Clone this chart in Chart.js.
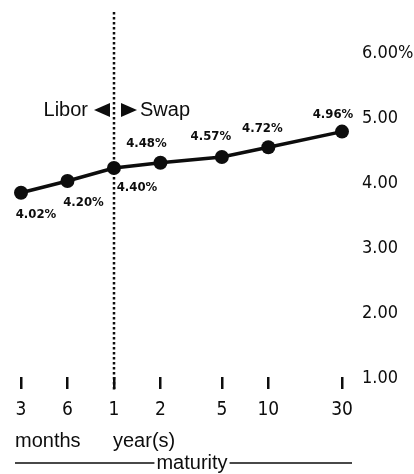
<!DOCTYPE html>
<html><head><meta charset="utf-8">
<script src="https://cdn.jsdelivr.net/npm/chart.js@4/dist/chart.umd.min.js"></script>
<style>html,body{margin:0;padding:0;background:#fff}canvas{display:block}</style>
</head><body>
<canvas id="c" width="414" height="474"></canvas>
<script>
// ---- data ----
const maturities = [0.25, 0.5, 1, 2, 5, 10, 30];            // maturity in years
const maturityLabels = ['3', '6', '1', '2', '5', '10', '30'];
const rates = [4.02, 4.20, 4.40, 4.48, 4.57, 4.72, 4.96];    // percent
const rateLabels = ['4.02%', '4.20%', '4.40%', '4.48%', '4.57%', '4.72%', '4.96%'];
const yTickValues = [1, 2, 3, 4, 5, 6];
const yTickLabels = ['1.00', '2.00', '3.00', '4.00', '5.00', '6.00%'];
const liborSwapBoundary = 1;  // years
const unitLabels = ['months', 'year(s)'];
const axisTitle = 'maturity';

// ---- styles ----
const INK = '#0d0d0d';
const COND = '"DejaVu Sans Condensed", "Liberation Sans Narrow", sans-serif';
const SANS = '"Liberation Sans", Arial, sans-serif';
const labelOffsets = [[15, 22], [16, 22], [23, 20], [-14, -19], [-11, -20], [-6, -19], [-9, -17]];

const annot = {
  id: 'annot',
  afterDatasetsDraw(chart) {
    const ctx = chart.ctx, xs = chart.scales.x, ca = chart.chartArea;
    const bx = Math.round(xs.getPixelForValue(liborSwapBoundary));
    ctx.save();
    // dotted boundary line
    ctx.strokeStyle = INK; ctx.lineWidth = 2.5; ctx.setLineDash([2.5, 2.5]);
    ctx.beginPath(); ctx.moveTo(bx, ca.top); ctx.lineTo(bx, ca.bottom + 1); ctx.stroke();
    ctx.setLineDash([]);
    // Libor / Swap
    const ly = 110;
    ctx.fillStyle = INK;
    ctx.font = '20px ' + SANS; ctx.textBaseline = 'middle';
    ctx.textAlign = 'right'; ctx.fillText('Libor', bx - 26, ly);
    ctx.textAlign = 'left'; ctx.fillText('Swap', bx + 26, ly);
    ctx.beginPath(); ctx.moveTo(bx - 20, ly); ctx.lineTo(bx - 4, ly - 7); ctx.lineTo(bx - 4, ly + 7); ctx.closePath(); ctx.fill();
    ctx.beginPath(); ctx.moveTo(bx + 23, ly); ctx.lineTo(bx + 7, ly - 7); ctx.lineTo(bx + 7, ly + 7); ctx.closePath(); ctx.fill();
    // point value labels
    const meta = chart.getDatasetMeta(0);
    ctx.font = 'bold 13px ' + COND; ctx.textAlign = 'center'; ctx.textBaseline = 'middle';
    meta.data.forEach((pt, i) => {
      const o = labelOffsets[i];
      ctx.fillText(rateLabels[i], pt.x + o[0], pt.y + o[1]);
    });
    // months / year(s)
    ctx.font = '20px ' + SANS; ctx.textBaseline = 'alphabetic'; ctx.textAlign = 'left';
    ctx.fillText(unitLabels[0], xs.getPixelForValue(maturities[0]) - 6, 447);
    ctx.fillText(unitLabels[1], bx - 1, 447);
    // maturity with rules
    ctx.textAlign = 'center';
    const mx = 192;
    ctx.fillText(axisTitle, mx, 469);
    const tw = ctx.measureText(axisTitle).width;
    ctx.lineWidth = 1.6;
    ctx.beginPath();
    ctx.moveTo(15, 463); ctx.lineTo(mx - tw / 2 - 2, 463);
    ctx.moveTo(mx + tw / 2 + 2, 463); ctx.lineTo(352, 463);
    ctx.stroke();
    ctx.restore();
  }
};

new Chart(document.getElementById('c'), {
  type: 'line',
  data: {
    datasets: [{
      data: maturities.map((m, i) => ({ x: m, y: rates[i] })),
      borderColor: INK, borderWidth: 3.5,
      pointRadius: 7, pointBackgroundColor: INK, pointBorderWidth: 0,
      tension: 0, clip: false
    }]
  },
  options: {
    responsive: false, animation: false, devicePixelRatio: 1,
    layout: { padding: { left: 21, top: 12, right: 0, bottom: 0 } },
    plugins: { legend: { display: false }, tooltip: { enabled: false } },
    scales: {
      x: {
        type: 'logarithmic', position: 'bottom', min: 0.25, max: 30,
        afterBuildTicks: s => { s.ticks = maturities.map(v => ({ value: v })); },
        afterFit: s => { s.height = 85; s.paddingLeft = 0; s.paddingRight = 0; },
        ticks: { autoSkip: false, maxRotation: 0, padding: 22, color: INK,
          font: { family: COND, size: 19 }, callback: (v, i) => maturityLabels[i] },
        grid: { drawOnChartArea: false, drawTicks: true, tickLength: -12, color: INK, lineWidth: 2.5 },
        border: { display: false }
      },
      y: {
        type: 'linear', position: 'right', min: 1, max: 6.8,
        afterBuildTicks: s => { s.ticks = yTickValues.map(v => ({ value: v })); },
        afterFit: s => { s.width = 72; s.paddingTop = 0; s.paddingBottom = 0; },
        ticks: { padding: 20, crossAlign: 'near', labelOffset: -11, color: INK,
          font: { family: COND, size: 18 }, callback: (v, i) => yTickLabels[i] },
        grid: { display: false, drawTicks: false },
        border: { display: false }
      }
    }
  },
  plugins: [annot]
});
</script>
</body></html>
